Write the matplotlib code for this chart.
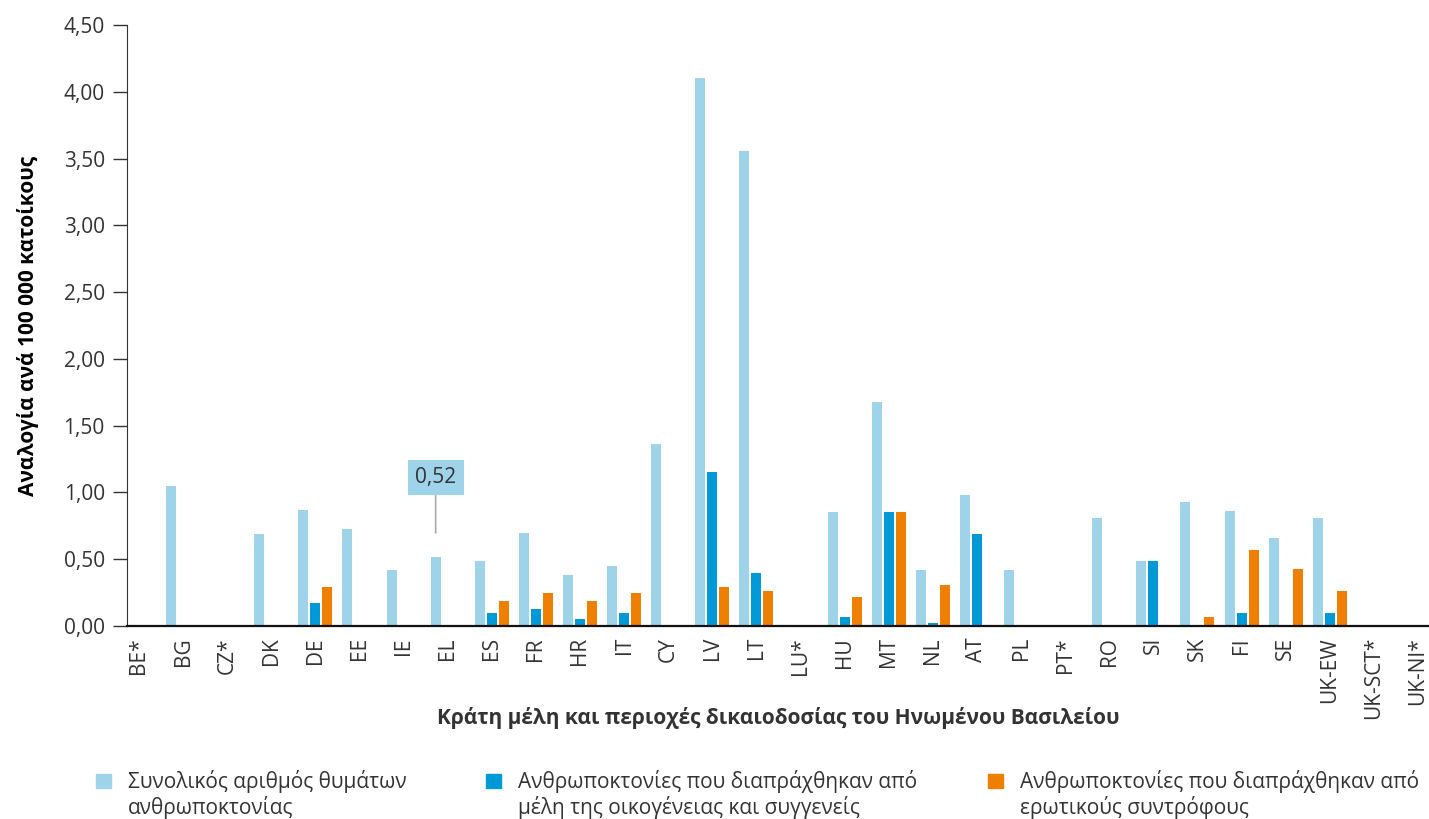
import numpy as np
import matplotlib as mpl
import matplotlib.pyplot as plt
from matplotlib.patches import Rectangle

plt.rcParams['font.family'] = ['Open Sans', 'DejaVu Sans']
plt.rcParams['text.color'] = '#333333'

# data
countries = ['BE*', 'BG', 'CZ*', 'DK', 'DE', 'EE', 'IE', 'EL', 'ES', 'FR',
             'HR', 'IT', 'CY', 'LV', 'LT', 'LU*', 'HU', 'MT', 'NL', 'AT',
             'PL', 'PT*', 'RO', 'SI', 'SK', 'FI', 'SE', 'UK-EW', 'UK-SCT*', 'UK-NI*']
total = [0, 1.05, 0, 0.69, 0.87, 0.73, 0.42, 0.52, 0.49, 0.70,
         0.38, 0.45, 1.36, 4.10, 3.56, 0, 0.85, 1.68, 0.42, 0.98,
         0.42, 0, 0.81, 0.49, 0.93, 0.86, 0.66, 0.81, 0, 0]
family = [0, 0, 0, 0, 0.17, 0, 0, 0, 0.10, 0.13,
          0.05, 0.10, 0, 1.15, 0.40, 0, 0.07, 0.85, 0.02, 0.69,
          0, 0, 0, 0.49, 0, 0.10, 0, 0.10, 0, 0]
partner = [0, 0, 0, 0, 0.29, 0, 0, 0, 0.19, 0.25,
           0.19, 0.25, 0, 0.29, 0.26, 0, 0.22, 0.85, 0.31, 0,
           0, 0, 0, 0, 0.07, 0.57, 0.43, 0.26, 0, 0]
yticks = [0, 0.5, 1.0, 1.5, 2.0, 2.5, 3.0, 3.5, 4.0, 4.5]
labels = ['Συνολικός αριθμός θυμάτων\nανθρωποκτονίας',
          'Ανθρωποκτονίες που διαπράχθηκαν από\nμέλη της οικογένειας και συγγενείς',
          'Ανθρωποκτονίες που διαπράχθηκαν από\nερωτικούς συντρόφους']
colors = ['#9ed3ea', '#0099d8', '#ef7f00']

W, H = 1429, 819
fig = plt.figure(figsize=(W/100, H/100), dpi=100)
ax = fig.add_axes([127/W, 1 - 626/H, (W-127)/W, (626-25)/H])

x = np.arange(len(countries))
w = 0.227
off = 0.272
ax.bar(x - off, total, w, color=colors[0])
ax.bar(x, family, w, color=colors[1])
ax.bar(x + off, partner, w, color=colors[2])

ax.set_xlim(-0.27, 29.25)
ax.set_ylim(0, 4.5)
ax.set_yticks(yticks)
ax.yaxis.set_major_formatter(mpl.ticker.FuncFormatter(lambda v, p: ('%.2f' % v).replace('.', ',')))
ax.set_xticks(x)
ax.set_xticklabels(countries, rotation=90, fontsize=15)
ax.tick_params(axis='x', length=0, pad=8, colors='#333333')
ax.tick_params(axis='y', length=10, width=1, labelsize=15, pad=6, colors='#333333')
for s in ['top', 'right']:
    ax.spines[s].set_visible(False)
ax.spines['left'].set_color('#333333')
ax.spines['bottom'].set_color('#111111')
ax.spines['bottom'].set_linewidth(1.6)

ax.set_ylabel('Αναλογία ανά 100 000 κατοίκους', fontsize=15, fontweight='bold', labelpad=18)
fig.text(778/W, 1 - 718/H, 'Κράτη μέλη και περιοχές δικαιοδοσίας του Ηνωμένου Βασιλείου',
         ha='center', va='center', fontsize=15, fontweight='bold')

# callout for EL
ax.annotate('0,52', xy=(7 - off, 0.52), xytext=(0, 57), textcoords='offset points',
            ha='center', va='center', fontsize=15,
            bbox=dict(boxstyle='square,pad=0.35', fc=colors[0], ec='none'),
            arrowprops=dict(arrowstyle='-', color='#aaaaaa', lw=1.2, shrinkA=0, shrinkB=17))

# legend, drawn by hand so the square sits by the first line
for lab, col, tx in zip(labels, colors, [128, 518, 1020]):
    fig.patches.append(Rectangle(((tx - 32)/W, 1 - 788/H), 15/W, 14/H,
                                 transform=fig.transFigure, color=col))
    fig.text(tx/W, 1 - 770/H, lab, ha='left', va='top', fontsize=15, linespacing=1.15)

fig.savefig('out.png', dpi=100)
